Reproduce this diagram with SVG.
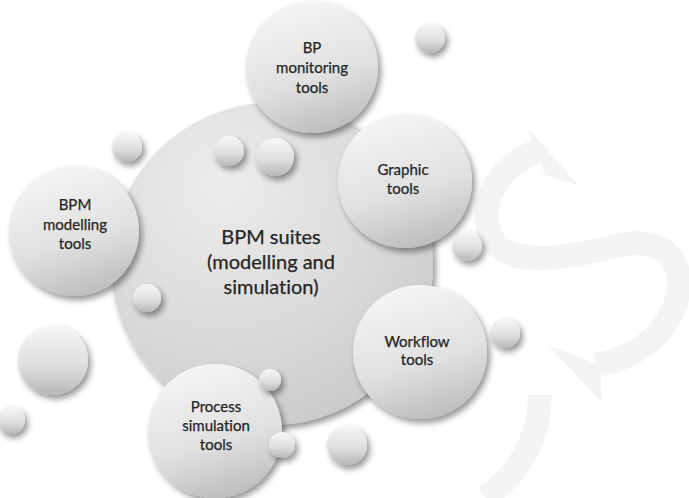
<svg xmlns="http://www.w3.org/2000/svg" width="689" height="498" viewBox="0 0 689 498">
<style>
.t{font-family:Lato,"Open Sans","Liberation Sans",sans-serif;fill:#252525;text-anchor:middle;font-variant-ligatures:none;stroke:#252525;stroke-width:0.25}
.s{font-size:15px}
.m{font-size:20px}
.ball{fill:url(#gBall);filter:url(#sh)}
.big{fill:url(#gBig);filter:url(#sh)}
.wm{fill:none;stroke:#f4f4f4;stroke-width:24;stroke-linecap:butt}
</style>
<defs>
<linearGradient id="gBall" x1="0" y1="0" x2="0" y2="1">
<stop offset="0" stop-color="#f7f7f7"/>
<stop offset="0.55" stop-color="#e0e0e0"/>
<stop offset="1" stop-color="#b8b8b8"/>
</linearGradient>
<radialGradient id="gMain" cx="0.35" cy="0.25" r="0.85">
<stop offset="0" stop-color="#ececec"/>
<stop offset="0.6" stop-color="#d9d9d9"/>
<stop offset="1" stop-color="#c8c8c8"/>
</radialGradient>
<linearGradient id="gBig" x1="0.3" y1="0" x2="0.6" y2="1">
<stop offset="0" stop-color="#f6f6f6"/>
<stop offset="0.6" stop-color="#e0e0e0"/>
<stop offset="1" stop-color="#bdbdbd"/>
</linearGradient>
<filter id="sh" x="-30%" y="-30%" width="160%" height="160%">
<feGaussianBlur in="SourceAlpha" stdDeviation="3"/>
<feOffset dx="3" dy="4" result="b"/>
<feComponentTransfer><feFuncA type="linear" slope="0.42"/></feComponentTransfer>
<feMerge><feMergeNode/><feMergeNode in="SourceGraphic"/></feMerge>
</filter>
</defs>
<rect width="689" height="498" fill="#ffffff"/>
<g id="watermark">
<path class="wm" d="M540 150 C500 165 478 200 490 235 C505 270 570 258 620 245 C665 235 690 265 675 305 C662 340 630 360 595 365"/>
<path d="M528 128 L578 185 L545 175 Z" fill="#f4f4f4"/>
<path d="M548 345 L602 402 L600 365 Z" fill="#f4f4f4"/>
<path class="wm" d="M540 395 C540 430 525 470 485 498"/>
</g>
<g id="suites">
<circle cx="272" cy="264" r="161" fill="url(#gMain)" filter="url(#sh)"/>
<text class="t m" x="271" y="244">BPM suites</text>
<text class="t m" x="271" y="269">(modelling and</text>
<text class="t m" x="271" y="294">simulation)</text>
</g>
<g id="monitoring">
<circle class="big" cx="312" cy="67" r="66"/>
<text class="t s" x="312" y="53">BP</text>
<text class="t s" x="312" y="73">monitoring</text>
<text class="t s" x="312" y="93">tools</text>
</g>
<g id="graphic">
<circle class="big" cx="405" cy="181" r="67"/>
<text class="t s" x="403" y="175">Graphic</text>
<text class="t s" x="403" y="194">tools</text>
</g>
<g id="modelling">
<circle class="big" cx="74" cy="231" r="65"/>
<text class="t s" x="75" y="210">BPM</text>
<text class="t s" x="75" y="230">modelling</text>
<text class="t s" x="75" y="249">tools</text>
</g>
<g id="workflow">
<circle class="big" cx="420" cy="352" r="67"/>
<text class="t s" x="417" y="347">Workflow</text>
<text class="t s" x="417" y="365">tools</text>
</g>
<g id="simulation">
<circle class="big" cx="215" cy="431" r="67"/>
<text class="t s" x="216" y="412">Process</text>
<text class="t s" x="216" y="431">simulation</text>
<text class="t s" x="216" y="450">tools</text>
</g>
<g id="bubbles">
<circle class="ball" cx="430" cy="38" r="15"/>
<circle class="ball" cx="127" cy="147" r="15"/>
<circle class="ball" cx="229" cy="151" r="15"/>
<circle class="ball" cx="275" cy="157" r="19"/>
<circle class="ball" cx="467" cy="246" r="15"/>
<circle class="ball" cx="147" cy="298" r="14"/>
<circle class="ball" cx="53" cy="360" r="35"/>
<circle class="ball" cx="505" cy="333" r="15"/>
<circle class="ball" cx="270" cy="380" r="11"/>
<circle class="ball" cx="11" cy="420" r="14"/>
<circle class="ball" cx="282" cy="445" r="13"/>
<circle class="ball" cx="347" cy="445" r="20"/>
</g>
</svg>
